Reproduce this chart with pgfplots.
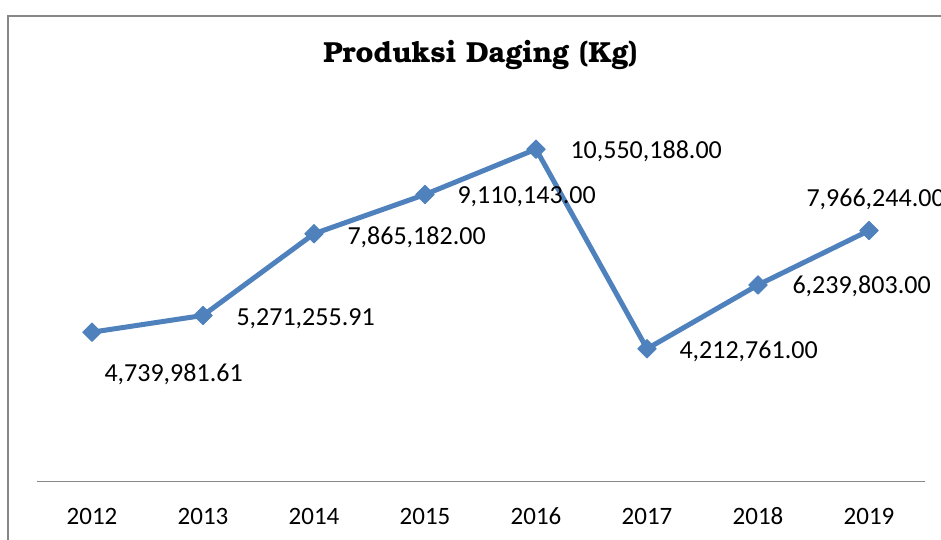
\documentclass[border=0pt]{standalone}
\usepackage{pgfplots}
\pgfplotsset{compat=1.18}
\usepackage{pgfplotstable}
\usepackage{fontspec}
\setmainfont{Carlito}
\newfontfamily\titlefont{texgyrebonum-bold.otf}
\definecolor{lineblue}{HTML}{4F81BD}
\definecolor{framegray}{HTML}{878787}
\pgfplotstableread{
x y label dx dy
0 4739981.61 4,739,981.61 12 -49
1 5271255.91 5,271,255.91 33 -10
2 7865182.00 7,865,182.00 33 -11
3 9110143.00 9,110,143.00 32 -9
4 10550188.00 10,550,188.00 34 -9
5 4212761.00 4,212,761.00 32 -10
6 6239803.00 6,239,803.00 34 -9
7 7966244.00 7,966,244.00 -63 24
}\data
\begin{document}
\begin{tikzpicture}
\path[use as bounding box] (0pt,0pt) rectangle (941pt,540pt);
\draw[color=framegray, line width=2pt] (7.5pt,-5pt) -- (7.5pt,524.2pt) -- (950pt,524.2pt);
\node[anchor=base, inner sep=0pt, font=\titlefont\fontsize{29}{34}\selectfont] at (480.5pt,477pt) {Produksi Daging (Kg)};
\begin{axis}[
  at={(36.5pt,58.5pt)}, anchor=south west,
  scale only axis, width=888pt, height=378pt,
  xmin=-0.5, xmax=7.5, ymin=0, ymax=12e6,
  axis x line=bottom, axis y line=none,
  axis line style={-, color=framegray, line width=1.5pt},
  xtick={0,...,7},
  xticklabels={2012,2013,2014,2015,2016,2017,2018,2019},
  major tick length=0pt,
  xticklabel style={anchor=base, yshift=-42.5pt, inner sep=0pt, font=\fontsize{25}{30}\selectfont, text=black},
  ytick=\empty,
  clip=false,
]
\addplot[color=lineblue, line width=5pt, line join=round,
  mark=square*, mark size=6.5pt,
  mark options={rotate=45, solid, fill=lineblue, line width=1pt},
  visualization depends on={\thisrow{dx} \as \dx},
  visualization depends on={\thisrow{dy} \as \dy},
  nodes near coords, point meta=explicit symbolic,
  nodes near coords style={anchor=base west, inner sep=0pt, xshift=\dx pt, yshift=\dy pt, font=\fontsize{26}{31}\selectfont, text=black},
] table[x=x, y=y, meta=label] {\data};
\end{axis}
\end{tikzpicture}
\end{document}
